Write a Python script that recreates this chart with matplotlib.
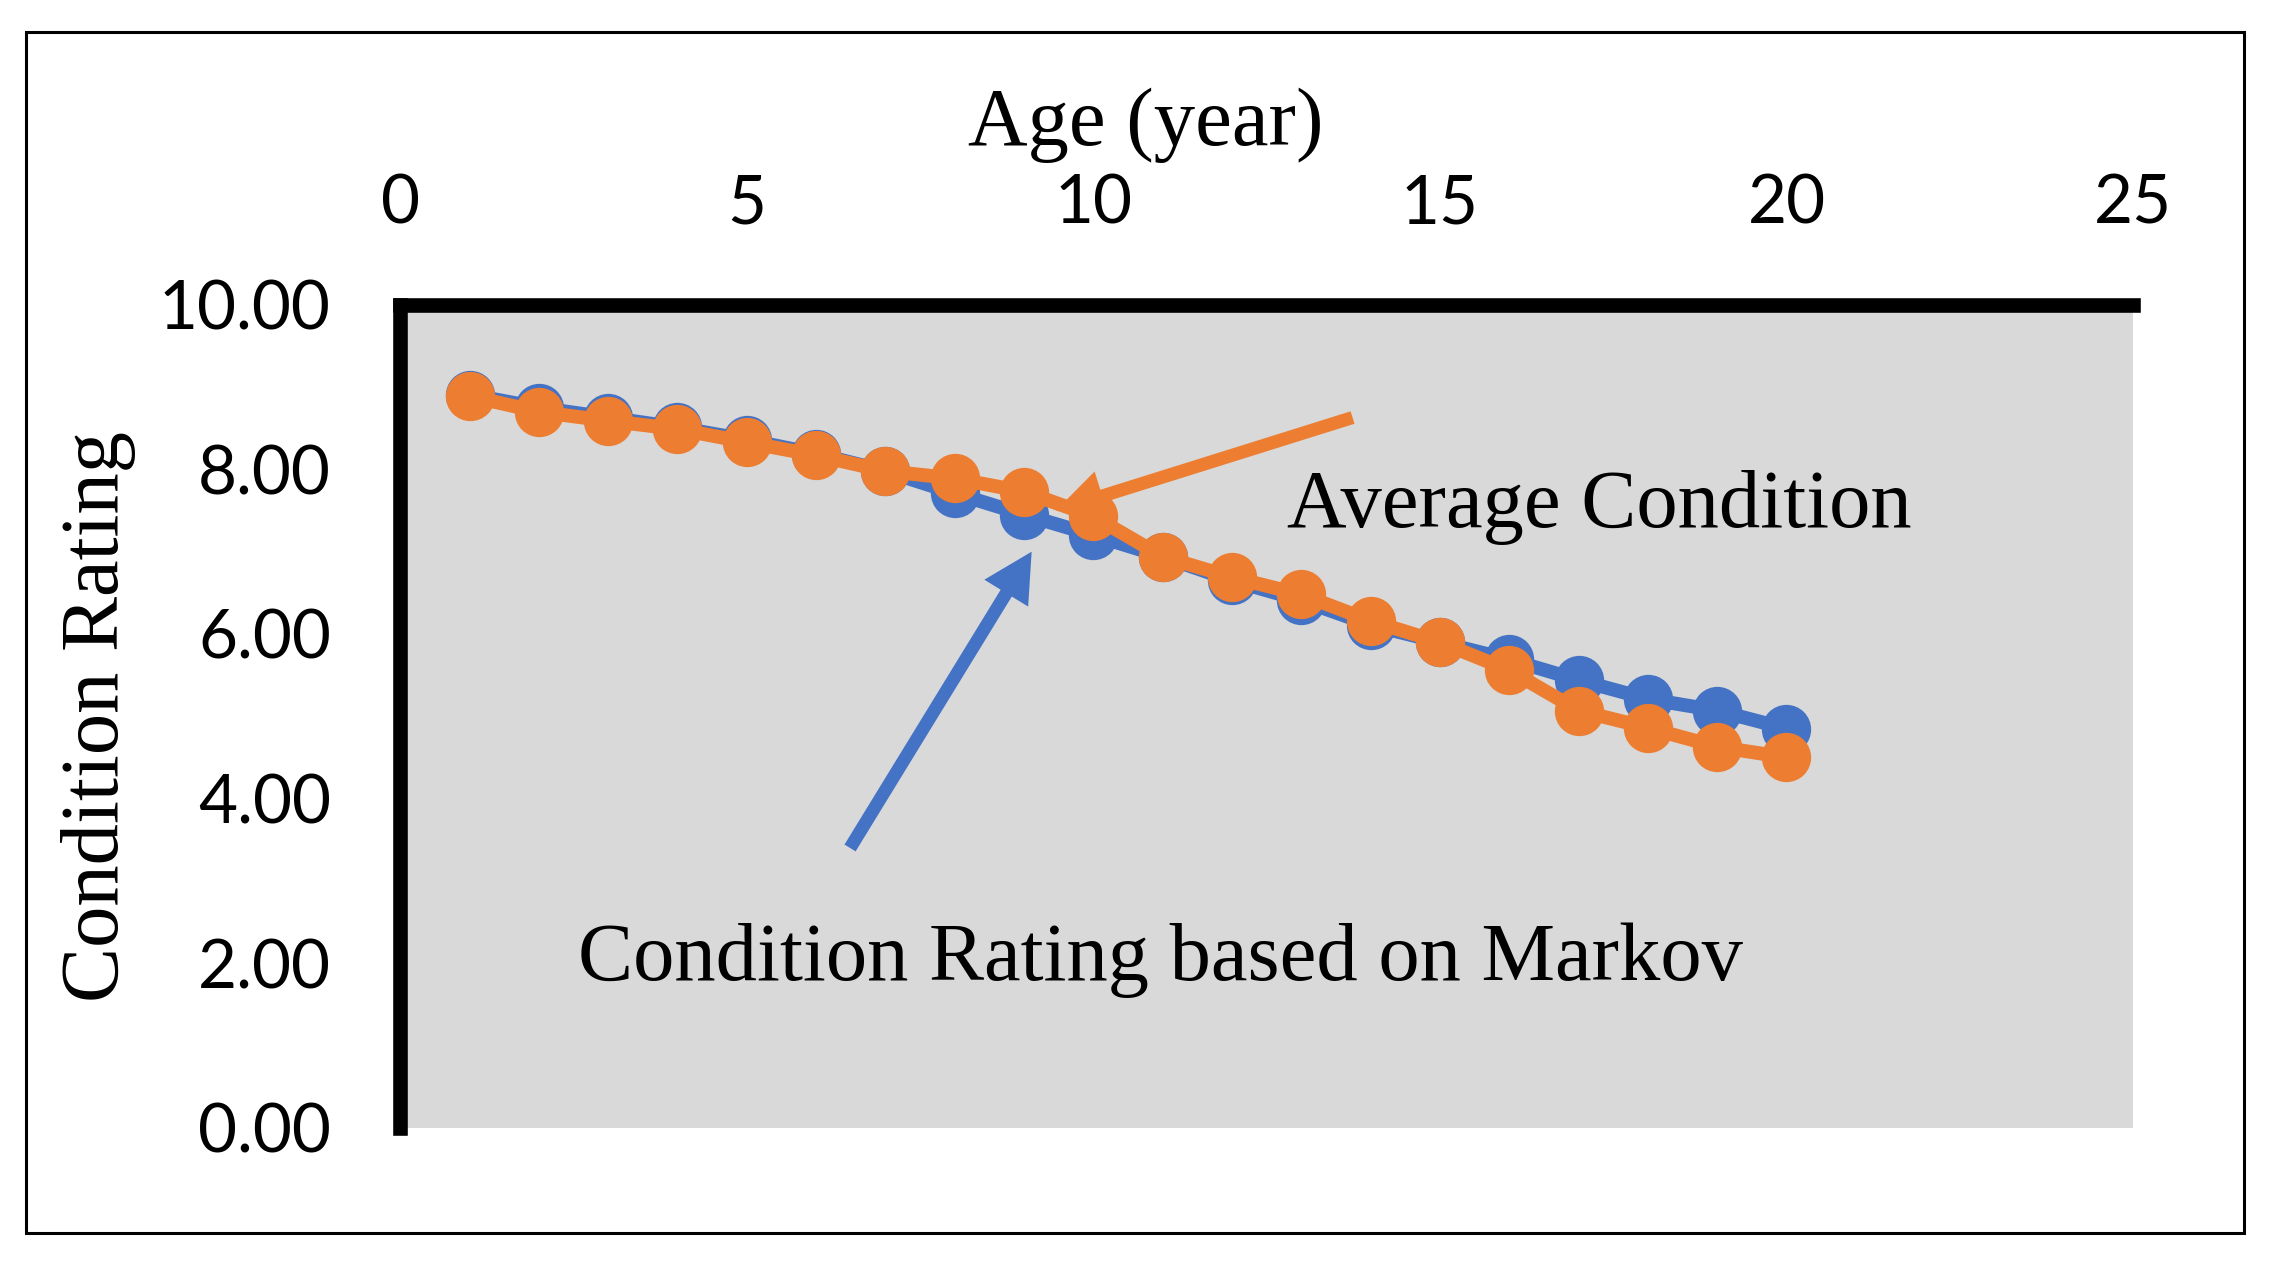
import matplotlib.pyplot as plt
from matplotlib.patches import Rectangle

# 数据
age = list(range(1, 21))
markov = [8.91, 8.75, 8.63, 8.51, 8.36, 8.19, 7.98, 7.71, 7.45, 7.20,
          6.94, 6.65, 6.41, 6.11, 5.90, 5.69, 5.44, 5.21, 5.07, 4.85]
average = [8.89, 8.70, 8.59, 8.49, 8.33, 8.17, 7.98, 7.89, 7.73, 7.43,
           6.94, 6.69, 6.48, 6.16, 5.90, 5.56, 5.07, 4.86, 4.63, 4.50]
x_ticks = [0, 5, 10, 15, 20, 25]
y_ticks = [0, 2, 4, 6, 8, 10]

blue = '#4472C4'
orange = '#ED7D31'
serif = ['Liberation Serif', 'DejaVu Serif']
sans = ['Lato', 'DejaVu Sans']
fs_serif = 59.5

fig = plt.figure(figsize=(22.74, 12.70), dpi=100)
ax = fig.add_axes([0.176, 0.112, 0.762, 0.648])
ax.set_facecolor('#D9D9D9')

ax.plot(age, markov, '-o', color=blue, linewidth=10, markersize=35.5,
        markeredgewidth=0)
ax.plot(age, average, '-o', color=orange, linewidth=10, markersize=35.5,
        markeredgewidth=0)

ax.set_xlim(0, 25)
ax.set_ylim(0, 10)
ax.set_xticks(x_ticks)
ax.set_yticks(y_ticks)
ax.set_yticklabels([f'{v:.2f}' for v in y_ticks])
ax.xaxis.tick_top()
ax.tick_params(axis='x', length=0, pad=50, labelsize=48.5)
ax.tick_params(axis='y', length=0, pad=50, labelsize=48.5)
for lab in ax.get_xticklabels() + ax.get_yticklabels():
    lab.set_family(sans)

for s in ['right', 'bottom']:
    ax.spines[s].set_visible(False)
for s in ['left', 'top']:
    ax.spines[s].set_linewidth(10.5)
    ax.spines[s].set_color('black')

# 箭头注释
arrow_kw = dict(width=9.4, headwidth=37, headlength=35, shrink=0,
                edgecolor='none')
ax.annotate('', xy=(9.46, 7.50), xytext=(13.74, 8.63),
            arrowprops=dict(facecolor=orange, **arrow_kw), zorder=5)
ax.annotate('', xy=(9.11, 7.00), xytext=(6.49, 3.40),
            arrowprops=dict(facecolor=blue, **arrow_kw), zorder=5)
ax.text(12.80, 7.30, 'Average Condition', fontsize=fs_serif, family=serif,
        ha='left', va='baseline')
ax.text(2.57, 1.80, 'Condition Rating based on Markov', fontsize=fs_serif,
        family=serif, ha='left', va='baseline')

fig.text(0.504, 0.886, 'Age (year)', fontsize=fs_serif, family=serif,
         ha='center', va='baseline')
fig.text(0.0434, 0.436, 'Condition Rating', fontsize=fs_serif, family=serif,
         ha='center', va='center', rotation=90)

# 外框
fig.patches.append(Rectangle((0.0114, 0.029), 0.9756, 0.946,
                             transform=fig.transFigure, fill=False,
                             edgecolor='black', linewidth=2.2))

plt.savefig('out.png', dpi=100)
